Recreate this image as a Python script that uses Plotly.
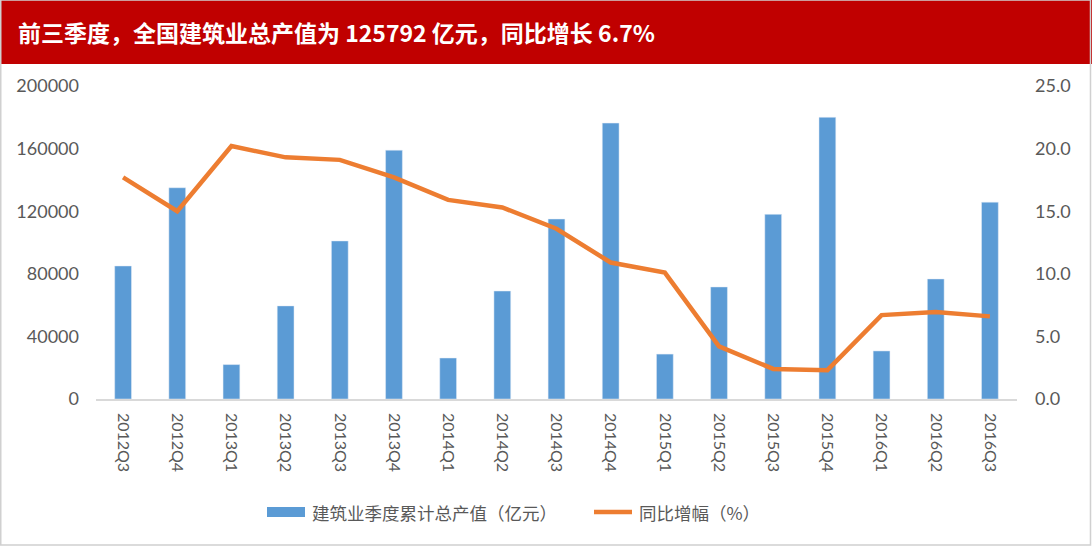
import plotly.graph_objects as go

categories = ["2012Q3", "2012Q4", "2013Q1", "2013Q2", "2013Q3", "2013Q4",
              "2014Q1", "2014Q2", "2014Q3", "2014Q4", "2015Q1", "2015Q2",
              "2015Q3", "2015Q4", "2016Q1", "2016Q2", "2016Q3"]
output_value = [85000, 135000, 22000, 59500, 101000, 159000,
                26200, 69000, 115000, 176300, 28700, 71600,
                118000, 180000, 30700, 76700, 125792]
yoy_growth = [17.7, 15.0, 20.2, 19.3, 19.1, 17.7,
              15.9, 15.3, 13.6, 10.9, 10.1, 4.2,
              2.4, 2.3, 6.7, 6.95, 6.6]
left_ticks = [0, 40000, 80000, 120000, 160000, 200000]
right_ticks = [0, 5, 10, 15, 20, 25]

title_text = "前三季度，全国建筑业总产值为 125792 亿元，同比增长 6.7%"
bar_name = "建筑业季度累计总产值（亿元）"
line_name = "同比增幅（%）"

W, H = 1092, 546
ML, MR, MT, MB = 96, 75, 86, 147
PW, PH = W - ML - MR, H - MT - MB

def px(x):
    return (x - ML) / PW

def py(y):
    return (H - MB - y) / PH

BLUE = "#5B9BD5"
ORANGE = "#ED7D31"
GRAY_TXT = "#595959"
FONT = "Lato, 'Noto Sans CJK SC', sans-serif"
CJK = "'Noto Sans CJK SC', sans-serif"

fig = go.Figure()
fig.add_trace(go.Bar(x=categories, y=output_value, name=bar_name,
                     marker_color=BLUE, showlegend=False))
fig.add_trace(go.Scatter(x=categories, y=yoy_growth, name=line_name, yaxis="y2",
                         mode="lines", line=dict(color=ORANGE, width=4.5),
                         showlegend=False))

shapes = [
    # red header band
    dict(type="rect", xref="paper", yref="paper", x0=px(0), x1=px(W), y0=py(64), y1=py(0),
         fillcolor="#C00000", line=dict(width=0), layer="below"),
    # outer border
    dict(type="rect", xref="paper", yref="paper", x0=px(0.75), x1=px(W - 1.5), y0=py(H - 1), y1=py(0),
         fillcolor="rgba(0,0,0,0)", line=dict(color="#D0D0D0", width=1.5)),
    # legend keys
    dict(type="rect", xref="paper", yref="paper", x0=px(267), x1=px(305), y0=py(517), y1=py(507),
         fillcolor=BLUE, line=dict(width=0)),
    dict(type="line", xref="paper", yref="paper", x0=px(594), x1=px(632), y0=py(512), y1=py(512),
         line=dict(color=ORANGE, width=4.5)),
]

annotations = [
    dict(text="<b>" + title_text + "</b>", xref="paper", yref="paper", x=px(16), y=py(32),
         xanchor="left", yanchor="middle", showarrow=False,
         font=dict(family=CJK, size=23, color="white")),
    dict(text=bar_name, xref="paper", yref="paper", x=px(310), y=py(512),
         xanchor="left", yanchor="middle", showarrow=False,
         font=dict(family=CJK, size=17.5, color=GRAY_TXT)),
    dict(text=line_name, xref="paper", yref="paper", x=px(637), y=py(512),
         xanchor="left", yanchor="middle", showarrow=False,
         font=dict(family=CJK, size=17.5, color=GRAY_TXT)),
]

fig.update_layout(
    width=W, height=H,
    margin=dict(l=ML, r=MR, t=MT, b=MB, autoexpand=False),
    paper_bgcolor="white", plot_bgcolor="white",
    bargap=0.69,
    showlegend=False,
    shapes=shapes,
    annotations=annotations,
    xaxis=dict(type="category", tickangle=90, showgrid=False, showline=True,
               linecolor="#D9D9D9", linewidth=1.5, ticks="outside", ticklen=9,
               tickcolor="rgba(0,0,0,0)",
               tickfont=dict(family=FONT, size=16, color=GRAY_TXT)),
    yaxis=dict(range=[0, 200000], tickvals=left_ticks, tickformat="d", showgrid=False,
               zeroline=False, showline=False, ticklabelstandoff=16,
               tickfont=dict(family=FONT, size=18, color=GRAY_TXT)),
    yaxis2=dict(range=[0, 25], tickvals=right_ticks, tickformat=".1f", overlaying="y",
                side="right", showgrid=False, zeroline=False, showline=False,
                ticklabelstandoff=17,
                tickfont=dict(family=FONT, size=18, color=GRAY_TXT)),
)

fig.write_html("out.html", config={"displayModeBar": False},
               post_script="document.body.style.margin='0';document.body.style.overflow='hidden';")
